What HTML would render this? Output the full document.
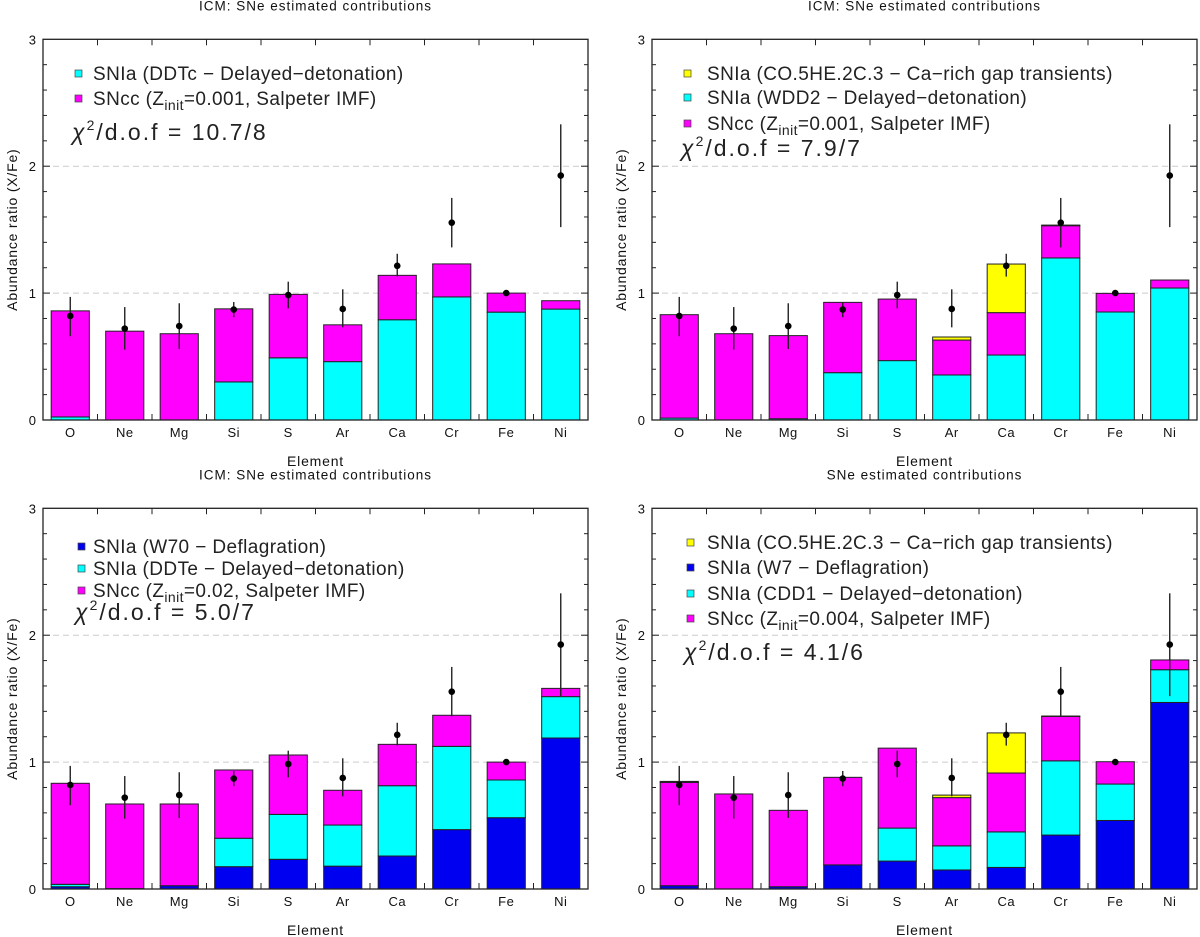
<!DOCTYPE html>
<html><head><meta charset="utf-8">
<style>
html,body{margin:0;padding:0;background:#fff;}
svg{display:block;font-family:"Liberation Sans",sans-serif;}
</style></head>
<body>
<svg id="chart" width="1200" height="937" viewBox="0 0 1200 937" xmlns="http://www.w3.org/2000/svg"></svg>
<script>
const categories = ["O","Ne","Mg","Si","S","Ar","Ca","Cr","Fe","Ni"];
const obsValues = [0.82,0.72,0.74,0.87,0.985,0.875,1.215,1.555,1.0,1.926];
const obsErrLow = [0.66,0.555,0.56,0.81,0.88,0.73,1.13,1.36,0.99,1.52];
const obsErrHigh = [0.97,0.89,0.92,0.93,1.09,1.03,1.31,1.75,1.01,2.33];
const yTickLabels = ["0","1","2","3"];

const p0Cyan = [0.024,0,0,0.30,0.49,0.46,0.79,0.97,0.85,0.874];
const p0Mag = [0.836,0.70,0.68,0.576,0.50,0.29,0.35,0.26,0.15,0.066];

const p1Cyan = [0.015,0,0.01,0.373,0.468,0.355,0.512,1.277,0.851,1.04];
const p1Mag = [0.815,0.68,0.655,0.554,0.485,0.275,0.334,0.254,0.147,0.063];
const p1Yellow = [0,0,0,0,0,0.024,0.383,0.005,0,0];

const p2Blue = [0.018,0.003,0.026,0.176,0.234,0.18,0.26,0.468,0.562,1.19];
const p2Cyan = [0.019,0,0,0.224,0.354,0.324,0.554,0.656,0.297,0.326];
const p2Mag = [0.796,0.667,0.644,0.538,0.468,0.274,0.326,0.245,0.141,0.065];

const p3Blue = [0.026,0,0.018,0.19,0.22,0.15,0.17,0.425,0.54,1.47];
const p3Cyan = [0,0,0,0,0.26,0.19,0.28,0.585,0.287,0.258];
const p3Mag = [0.814,0.749,0.602,0.69,0.63,0.38,0.464,0.35,0.176,0.077];
const p3Yellow = [0.008,0,0,0,0,0.02,0.316,0.003,0,0];

const COL = {blue:"#0000f0", cyan:"#00ffff", mag:"#ff00ff", yellow:"#ffff00"};

const panels = [
 {id:"top-left", left:43, top:39.3, bottom:420, title:"ICM: SNe estimated contributions",
  series:[{name:"cyan",vals:p0Cyan,color:COL.cyan},{name:"magenta",vals:p0Mag,color:COL.mag}],
  legend:[["SNIa (DDTc − Delayed−detonation)",COL.cyan],["SNcc (Z|init|=0.001, Salpeter IMF)",COL.mag]],
  legX:78, textX:93, legY:[73,98], chi:"10.7/8", chiY:140},
 {id:"top-right", left:652, top:39.3, bottom:420, title:"ICM: SNe estimated contributions",
  series:[{name:"cyan",vals:p1Cyan,color:COL.cyan},{name:"magenta",vals:p1Mag,color:COL.mag},{name:"yellow",vals:p1Yellow,color:COL.yellow}],
  legend:[["SNIa (CO.5HE.2C.3 − Ca−rich gap transients)",COL.yellow],["SNIa (WDD2 − Delayed−detonation)",COL.cyan],["SNcc (Z|init|=0.001, Salpeter IMF)",COL.mag]],
  legX:687, textX:707, legY:[73,97,123], chi:"7.9/7", chiY:156},
 {id:"bottom-left", left:43, top:508.3, bottom:889, title:"ICM: SNe estimated contributions",
  series:[{name:"blue",vals:p2Blue,color:COL.blue},{name:"cyan",vals:p2Cyan,color:COL.cyan},{name:"magenta",vals:p2Mag,color:COL.mag}],
  legend:[["SNIa (W70 − Deflagration)",COL.blue],["SNIa (DDTe − Delayed−detonation)",COL.cyan],["SNcc (Z|init|=0.02, Salpeter IMF)",COL.mag]],
  legX:81, textX:93, legY:[546,568,590], chi:"5.0/7", chiY:620},
 {id:"bottom-right", left:652, top:508.3, bottom:889, title:"SNe estimated contributions",
  series:[{name:"blue",vals:p3Blue,color:COL.blue},{name:"cyan",vals:p3Cyan,color:COL.cyan},{name:"magenta",vals:p3Mag,color:COL.mag},{name:"yellow",vals:p3Yellow,color:COL.yellow}],
  legend:[["SNIa (CO.5HE.2C.3 − Ca−rich gap transients)",COL.yellow],["SNIa (W7 − Deflagration)",COL.blue],["SNIa (CDD1 − Delayed−detonation)",COL.cyan],["SNcc (Z|init|=0.004, Salpeter IMF)",COL.mag]],
  legX:690, textX:707, legY:[542,567,593,618], chi:"4.1/6", chiY:660}
];

const svg = document.getElementById("chart");
const NS = "http://www.w3.org/2000/svg";
function mk(tag, attrs, parent){
  const e = document.createElementNS(NS, tag);
  for (const k in attrs) e.setAttribute(k, attrs[k]);
  (parent||svg).appendChild(e);
  return e;
}
const W = 545, YMAX = 3;

panels.forEach(p => {
  const g = mk("g", {});
  
  
  const right = p.left + W;
  const slot = W / categories.length;
  const xC = i => p.left + slot * (i + 0.5);
  const yS = v => p.bottom - (p.bottom - p.top) * v / YMAX;
  const cx = p.left + W / 2;

  const t = mk("text", {x:cx, y:p.top - 29, "text-anchor":"middle", "font-size":"13.5", "letter-spacing":"1", fill:"#111"}, g);
  t.textContent = p.title;
  
  

  [1,2].forEach(v => {
    const l = mk("line", {x1:p.left, x2:right, y1:yS(v), y2:yS(v), stroke:"#ccc", "stroke-width":"1", "stroke-dasharray":"6,4"}, g);
    
    
  });

  categories.forEach((c, i) => {
    let base = 0;
    const bw = slot * 0.7;
    p.series.forEach(s => {
      const v = s.vals[i];
      if (v > 0) {
        const r = mk("rect", {x:xC(i) - bw/2, y:yS(base + v), width:bw, height:yS(base) - yS(base + v), fill:s.color, stroke:"#222", "stroke-width":"1"}, g);
        
        
      }
      base += v;
    });
  });

  categories.forEach((c, i) => {
    const l = mk("line", {x1:xC(i), x2:xC(i), y1:yS(obsErrLow[i]), y2:yS(obsErrHigh[i]), stroke:"#222", "stroke-width":"1.4"}, g);
    
    
    const d = mk("circle", {cx:xC(i), cy:yS(obsValues[i]), r:3.3, fill:"#000"}, g);
    
    
  });

  const fr = mk("rect", {x:p.left, y:p.top, width:W, height:p.bottom - p.top, fill:"none", stroke:"#222", "stroke-width":"1.3"}, g);
  
  

  for (let i = 1; i < categories.length; i++) {
    const x = p.left + slot * i;
    mk("line", {x1:x, x2:x, y1:p.bottom, y2:p.bottom - 6, stroke:"#222"}, g);
    mk("line", {x1:x, x2:x, y1:p.top, y2:p.top + 6, stroke:"#222"}, g);
  }
  categories.forEach((c, i) => {
    const tl = mk("text", {x:xC(i), y:p.bottom + 17, "text-anchor":"middle", "font-size":"13", "letter-spacing":"0.5", fill:"#111"}, g);
    tl.textContent = c;
    
    
  });

  for (let k = 1; k < 15; k++) {
    const v = k * 0.2;
    const major = k % 5 === 0;
    const len = major ? 7 : 4;
    mk("line", {x1:p.left, x2:p.left + len, y1:yS(v), y2:yS(v), stroke:"#222"}, g);
    mk("line", {x1:right, x2:right - len, y1:yS(v), y2:yS(v), stroke:"#222"}, g);
  }
  yTickLabels.forEach((lab, k) => {
    const yl = mk("text", {x:p.left - 7, y:yS(Number(lab)) + 5, "text-anchor":"end", "font-size":"13", fill:"#111"}, g);
    yl.textContent = lab;
    
    
  });

  const xt = mk("text", {x:cx, y:p.bottom + 46, "text-anchor":"middle", "font-size":"14", "letter-spacing":"0.8", fill:"#111"}, g);
  xt.textContent = "Element";
  
  
  const ym = (p.top + p.bottom) / 2;
  const yt = mk("text", {x:p.left - 26, y:ym, "text-anchor":"middle", "font-size":"14", "letter-spacing":"0.8", fill:"#111", transform:"rotate(-90 " + (p.left - 26) + " " + ym + ")"}, g);
  yt.textContent = "Abundance ratio (X/Fe)";
  
  

  p.legend.forEach((it, k) => {
    const sq = mk("rect", {x:p.legX - 3, y:p.legY[k] - 3, width:7, height:7, fill:it[1], stroke:"#444", "stroke-width":"0.7"}, g);
    
    
    const tx = mk("text", {x:p.textX, y:p.legY[k] + 7, "font-size":"19", "letter-spacing":"0.4", fill:"#222"}, g);
    
    
    const parts = it[0].split("|");
    const a = mk("tspan", {}, tx); a.textContent = parts[0];
    if (parts.length > 1) {
      const sub = mk("tspan", {dy:"5", "font-size":"14"}, tx); sub.textContent = parts[1];
      const rest = mk("tspan", {dy:"-5"}, tx); rest.textContent = parts[2];
    }
  });
  const chi = mk("text", {x:p.legX - 6, y:p.chiY, "font-size":"23", "letter-spacing":"2", fill:"#222"}, g);
  
  
  const c1 = mk("tspan", {"font-style":"italic"}, chi); c1.textContent = "χ";
  const c2 = mk("tspan", {dy:"-10", "font-size":"14"}, chi); c2.textContent = "2";
  const c3 = mk("tspan", {dy:"10"}, chi); c3.textContent = "/d.o.f = " + p.chi;
});
</script>
</body></html>
